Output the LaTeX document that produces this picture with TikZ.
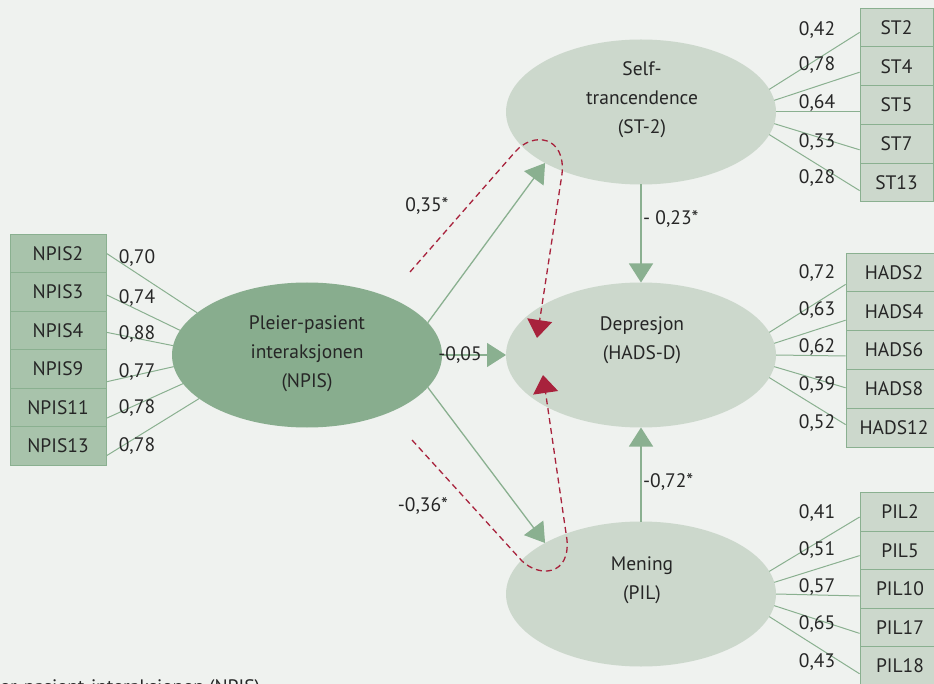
\documentclass[tikz,border=0pt]{standalone}
\usepackage{fontspec}
\setmainfont{PT Sans}
\usetikzlibrary{arrows.meta,calc,shapes.geometric}
\definecolor{bg}{HTML}{EFF2EF}
\definecolor{lite}{HTML}{CCD8CC}
\definecolor{mid}{HTML}{A8C3AB}
\definecolor{dark}{HTML}{88AD8E}
\definecolor{ln}{HTML}{8AB090}
\definecolor{rd}{HTML}{A8223C}
\begin{document}
\begin{tikzpicture}[x=1pt,y=-1pt,
  every node/.style={font=\fontsize{19.5}{29}\selectfont, text=black!85},
  latent/.style={ellipse, minimum width=270pt, minimum height=145pt, inner sep=0pt, outer sep=0pt, draw=none},
  itembox/.style={rectangle, draw=ln, line width=0.8pt, inner sep=0pt, minimum height=38.6pt},
  lbl/.style={inner sep=0pt},
  load/.style={draw=ln, line width=1pt},
  path arrow/.style={draw=ln, line width=1.3pt, -{Triangle[length=19pt,width=24pt]}},
  corr/.style={draw=rd, line width=1.3pt, dash pattern=on 6pt off 4pt, -{Triangle[length=18pt,width=25pt]}}]
\useasboundingbox (0,0) rectangle (934,684);
\clip (0,0) rectangle (934,684);
\fill[bg] (0,0) rectangle (934,684);

% latent variables
\node[latent, fill=dark] (npis) at (307,355) {};
\node[latent, fill=lite] (st) at (641,112) {};
\node[latent, fill=lite] (dep) at (641,355) {};
\node[latent, fill=lite] (pil) at (641,594) {};
\node[align=center] (npist) at (307,354) {Pleier-pasient\\interaksjonen\\(NPIS)};
\node[align=center] (stt) at (642,100) {Self-\\trancendence\\(ST-2)};
\node[align=center] (dept) at (642,340) {Depresjon\\(HADS-D)};
\node[align=center] (pilt) at (642,580) {Mening\\(PIL)};

% NPIS items
\foreach \n/\t/\y in {n2/NPIS2/253.3, n3/NPIS3/291.8, n4/NPIS4/330.3, n9/NPIS9/368.8, n11/NPIS11/407.3, n13/NPIS13/445.8}
  \node[itembox, fill=mid, minimum width=96pt] (\n) at (58,\y) {\t};

% ST items
\foreach \n/\t/\y in {s2/ST2/27.4, s4/ST4/66.2, s5/ST5/105, s7/ST7/143.8, s13/ST13/182.6}
  \node[itembox, fill=lite, minimum width=73pt] (\n) at (896.5,\y) {\t};
% HADS items
\foreach \n/\t/\y in {h2/HADS2/272.4, h4/HADS4/311.2, h6/HADS6/350, h8/HADS8/388.8, h12/HADS12/427.6}
  \node[itembox, fill=lite, minimum width=96pt] (\n) at (894,\y) {\t};
% PIL items
\foreach \n/\t/\y in {p2/PIL2/512, p5/PIL5/550.6, p10/PIL10/589, p17/PIL17/627.4, p18/PIL18/665.8}
  \node[itembox, fill=lite, minimum width=80pt] (\n) at (900,\y) {\t};

% loadings NPIS
\draw[load] ($(n2.east)+(0,0)$) -- (npis.159);
\draw[load] ($(n3.east)+(0,3)$) -- (npis.169);
\draw[load] ($(n4.east)+(0,2)$) -- (npis.176);
\draw[load] ($(n9.east)+(0,13)$) -- (npis.185);
\draw[load] ($(n11.east)+(0,11)$) -- (npis.193);
\draw[load] ($(n13.east)+(0,10)$) -- (npis.202);
% loadings ST
\draw[load] (st.10) -- ($(s2.west)+(0,5)$);
\draw[load] (st.5) -- ($(s4.west)+(0,6)$);
\draw[load] (st.0) -- ($(s5.west)+(0,7)$);
\draw[load] (st.-5) -- ($(s7.west)+(0,6)$);
\draw[load] (st.-10) -- ($(s13.west)+(0,8)$);
% loadings HADS
\draw[load] (dep.10) -- ($(h2.west)+(0,12)$);
\draw[load] (dep.5) -- ($(h4.west)+(0,9)$);
\draw[load] (dep.0) -- ($(h6.west)+(0,6)$);
\draw[load] (dep.-5) -- ($(h8.west)+(0,-1)$);
\draw[load] (dep.-10) -- ($(h12.west)+(0,-3)$);
% loadings PIL
\draw[load] (pil.10) -- ($(p2.west)+(0,5)$);
\draw[load] (pil.5) -- ($(p5.west)+(0,5)$);
\draw[load] (pil.0) -- ($(p10.west)+(0,7)$);
\draw[load] (pil.-5) -- ($(p17.west)+(0,6)$);
\draw[load] (pil.-10) -- ($(p18.west)+(0,8)$);

% loading labels
\foreach \v/\y [count=\i] in {{0,70}/258, {0,74}/298, {0,88}/334, {0,77}/372, {0,78}/408, {0,78}/446}
  \node[lbl] (ln\i) at (137,\y) {\v};
\foreach \v/\y [count=\i] in {{0,42}/30, {0,78}/65, {0,64}/103, {0,33}/142, {0,28}/178}
  \node[lbl] (ls\i) at (817,\y) {\v};
\foreach \v/\y [count=\i] in {{0,72}/273, {0,63}/310, {0,62}/347, {0,39}/385, {0,52}/423}
  \node[lbl] (lh\i) at (817,\y) {\v};
\foreach \v/\y [count=\i] in {{0,41}/513, {0,51}/550, {0,57}/587, {0,65}/624, {0,43}/662}
  \node[lbl] (lp\i) at (817,\y) {\v};

% structural paths
\draw[path arrow] (npis.15) -- (st.208);
\draw[path arrow] (npis.east) -- (dep.west);
\draw[path arrow] (npis.-15) -- (pil.152);
\draw[path arrow] (st.south) -- (dep.north);
\draw[path arrow] (pil.north) -- (dep.south);
\node[lbl] (c1) at (427,206) {0,35*};
\node[lbl] (c2) at (460,355) {-0,05};
\node[lbl] (c3) at (423,506) {-0,36*};
\node[lbl, anchor=west] (c4) at (643,219) {- 0,23*};
\node[lbl, anchor=west] (c5) at (643,482) {-0,72*};

% indirect effects
\coordinate (ua) at (410,272);
\coordinate (ub) at (515,152);
\coordinate (uc) at (562,174);
\coordinate (ue) at (537,338);
\draw[corr] (ua) -- (ub) .. controls (533,131) and (566,136) .. (uc) -- (ue);
\coordinate (la) at (412,440);
\coordinate (lb) at (522,561);
\coordinate (lc) at (567,540);
\coordinate (le) at (543,375);
\draw[corr] (la) -- (lb) .. controls (540,578) and (570,575) .. (lc) -- (le);

% clipped caption
\node[lbl, anchor=base west] (cap) at (0,693) {er-pasient-interaksjonen (NPIS)};
\end{tikzpicture}
\end{document}
